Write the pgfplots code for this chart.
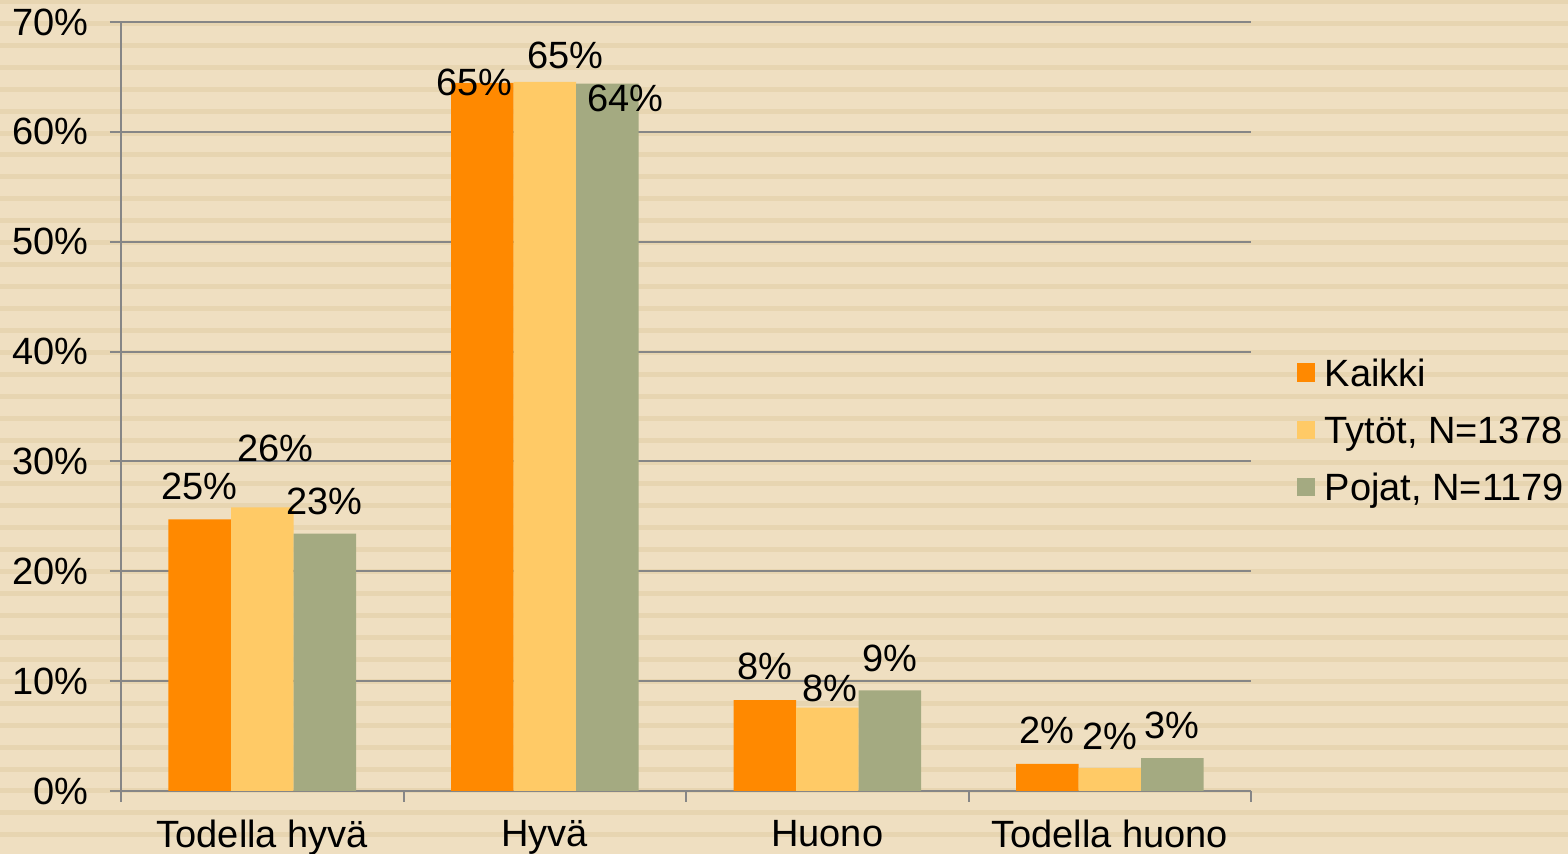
\documentclass[border=0pt]{standalone}
\usepackage{pgfplots}
\pgfplotsset{compat=1.18}
\usepackage{pgfplotstable}
\usepackage{fontspec}
\setmainfont{Liberation Sans}

\definecolor{bgcol}{RGB}{239,223,193}
\definecolor{stripecol}{RGB}{231,213,177}
\definecolor{corange}{RGB}{255,137,0}
\definecolor{cyellow}{RGB}{255,202,102}
\definecolor{cgreen}{RGB}{164,170,129}
\definecolor{axgray}{RGB}{134,134,134}

\pgfplotstableread{
x y lab dx dy
0 24.73 25 0 16.3
1 64.47 65 -4 0
2 8.28 8 0 16.7
3 2.46 2 0 16.6
}\kaikki
\pgfplotstableread{
x y lab dx dy
0 25.82 26 6.5 29.7
1 64.56 65 10.5 13.3
2 7.58 8 1.3 9.7
3 2.09 2 0 15.7
}\tytot
\pgfplotstableread{
x y lab dx dy
0 23.42 23 0 16
1 64.38 64 9 -7.2
2 9.17 9 0 16
3 3.00 3 0 16.5
}\pojat

\begin{document}
\begin{tikzpicture}[font=\fontsize{19pt}{23pt}\selectfont]
\fill[bgcol] (-60.5pt,-31.5pt) rectangle (723.5pt,395.5pt);
\begin{scope}
\clip (-60.5pt,-31.5pt) rectangle (723.5pt,395.5pt);
\foreach \k in {0,...,39} {
  \pgfmathsetmacro\ya{(791-1.5-21.93*\k)/2-1.25}
  \pgfmathsetmacro\yb{(791-1.5-21.93*\k)/2+1.25}
  \fill[stripecol] (-60.5pt,\ya pt) rectangle (723.5pt,\yb pt);
}
\end{scope}
\begin{axis}[
  at={(0pt,0pt)}, anchor=south west,
  scale only axis, width=565pt, height=384.5pt,
  ybar=0pt, bar width=31.25pt,
  xmin=-0.5, xmax=3.5, ymin=0, ymax=70,
  axis x line*=bottom, axis y line*=left,
  axis line style={axgray, line width=1pt, -},
  xtick={-0.5,0.5,1.5,2.5,3.5},
  xticklabels={},
  x tick style={draw=axgray, line width=1pt},
  extra x ticks={0,1,2,3},
  extra x tick labels={Todella hyvä, Hyvä, Huono, Todella huono},
  extra x tick style={grid=none, major tick length=0pt,
     xticklabel style={inner sep=0pt, anchor=north, yshift=-14.5pt}},
  ytick={0,10,...,70},
  yticklabels={0\%,10\%,20\%,30\%,40\%,50\%,60\%,70\%},
  y tick style={draw=axgray, line width=1pt},
  tick align=outside, major tick length=5.5pt,
  ymajorgrids, grid style={axgray, line width=1pt},
  yticklabel style={inner sep=0pt, anchor=east, xshift=-10.6pt},
  point meta=explicit symbolic,
  nodes near coords={\pgfplotspointmeta\%},
  visualization depends on={\thisrow{dx}\as\dx},
  visualization depends on={\thisrow{dy}\as\dy},
  every node near coord/.append style={anchor=center, inner sep=0pt, xshift=\dx pt, yshift=\dy pt, text=black},
  legend style={at={(1.0407,0.4645)}, anchor=west, draw=none, fill=none,
    inner sep=0pt, outer sep=0pt, row sep=11.0pt,
    nodes={inner sep=0pt, text height=13.6pt, text depth=4.0pt, anchor=base west},
    /tikz/every odd column/.append style={column sep=4.65pt}},
  legend cell align=left,
  legend image code/.code={\fill[#1,draw=none] (0pt,2.2pt) rectangle (9.2pt,11.4pt);},
]
\addplot[fill=corange, draw=none] table[x=x, y=y, meta=lab] {\kaikki};
\addplot[fill=cyellow, draw=none] table[x=x, y=y, meta=lab] {\tytot};
\addplot[fill=cgreen, draw=none] table[x=x, y=y, meta=lab] {\pojat};
\legend{Kaikki, {Tytöt, N=1378}, {Pojat, N=1179}}
\end{axis}
\pgfresetboundingbox
\useasboundingbox (-60.5pt,-31.5pt) rectangle (723.5pt,395.5pt);
\end{tikzpicture}
\end{document}
